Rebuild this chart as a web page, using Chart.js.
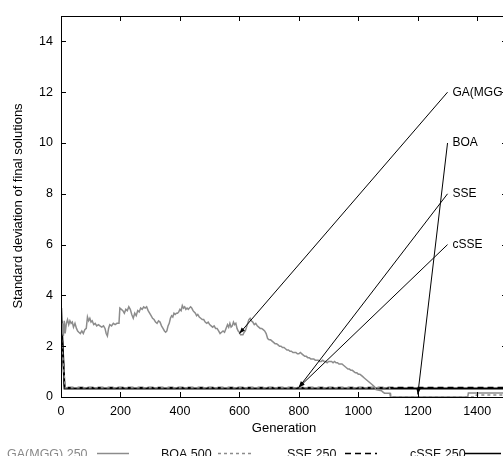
<!DOCTYPE html>
<html>
<head>
<meta charset="utf-8">
<script src="https://cdn.jsdelivr.net/npm/chart.js@4/dist/chart.umd.min.js"></script>
<style>
html,body{margin:0;padding:0;background:#fff;overflow:hidden;}
#wrap{width:540px;height:456px;overflow:hidden;}
</style>
</head>
<body>
<div id="wrap"><canvas id="c" width="540" height="456"></canvas></div>
<script>
// ---- data ----
const X_TICKS = [0,200,400,600,800,1000,1200,1400];
const Y_TICKS = [0,2,4,6,8,10,12,14];

const GA_GEN = [0,2,5,8,11,14,18,22,26,30,34,38,42,47,52,56,60,65,70,75,80,85,89,93,97,101,105,110,115,120,126,131,137,143,148,152,156,160,164,170,176,182,188,195,198,203,208,213,218,223,228,233,238,243,248,253,258,263,268,273,278,283,288,293,298,303,308,313,318,323,328,333,338,343,348,352,356,360,364,368,372,376,380,384,388,392,396,400,404,408,412,416,420,424,428,432,436,440,444,448,452,456,460,465,470,475,480,485,490,495,500,505,510,515,520,525,530,535,540,545,550,555,560,564,568,572,576,580,584,588,592,596,600,604,608,612,616,620,624,628,632,636,640,645,650,655,660,665,670,675,680,685,690,695,700,705,710,715,720,725,730,735,740,745,750,755,760,765,770,775,780,785,790,795,800,805,810,815,820,825,830,835,840,845,850,855,860,865,870,875,880,885,890,895,900,905,910,915,920,925,930,935,940,945,950,955,960,965,970,975,980,985,990,995,1000,1005,1010,1015,1020,1025,1030,1035,1040,1045,1050,1055,1058,1062,1070,1078,1082,1088,1106,1108,1368,1370,1500];
const GA_STD = [3.5,2.45,2.9,2.4,3.0,2.5,2.9,3.05,2.85,3.0,2.9,2.95,2.75,2.9,2.7,2.6,2.55,2.5,2.6,2.5,2.65,2.7,3.15,3.0,3.1,2.95,3.0,2.85,2.9,2.8,2.85,2.8,2.75,2.8,2.7,2.5,2.4,2.7,2.85,2.8,2.9,2.85,2.9,2.9,3.5,3.45,3.4,3.3,3.45,3.4,3.55,3.45,3.25,3.1,3.3,3.2,3.4,3.35,3.5,3.45,3.55,3.5,3.55,3.4,3.3,3.2,3.1,3.05,2.95,2.9,3.0,2.95,2.8,2.7,2.6,2.55,2.6,2.8,2.9,3.1,3.2,3.15,3.3,3.25,3.3,3.3,3.35,3.45,3.4,3.6,3.5,3.55,3.45,3.5,3.45,3.5,3.55,3.5,3.4,3.35,3.3,3.2,3.25,3.15,3.1,3.05,3.05,2.95,2.9,2.95,2.85,2.8,2.75,2.8,2.7,2.7,2.6,2.5,2.55,2.6,2.55,2.7,2.85,2.75,2.9,2.75,2.8,2.95,2.85,2.9,2.7,2.6,2.55,2.45,2.45,2.45,2.55,2.6,2.75,2.9,3.05,3.1,3.0,2.95,2.85,2.9,2.8,2.75,2.7,2.7,2.65,2.6,2.5,2.3,2.25,2.25,2.2,2.15,2.1,2.1,2.05,2.0,2.0,1.95,1.95,1.9,1.85,1.85,1.8,1.8,1.75,1.75,1.75,1.7,1.7,1.75,1.7,1.65,1.6,1.6,1.55,1.55,1.5,1.5,1.5,1.45,1.45,1.45,1.4,1.4,1.45,1.4,1.4,1.35,1.4,1.4,1.4,1.35,1.4,1.35,1.35,1.3,1.3,1.3,1.25,1.2,1.15,1.1,1.1,1.05,1.05,1.0,0.95,0.95,0.9,0.9,0.85,0.8,0.75,0.7,0.65,0.6,0.55,0.5,0.45,0.4,0.3,0.28,0.27,0.25,0.2,0.15,0.15,0,0,0.16,0.16];

const BOA_GEN = [0,14,1105,1110,1395,1397,1500];
const BOA_STD = [2.5,0.36,0.36,0,0,0.08,0.08];

const SSE_GEN = [0,12,1500];
const SSE_STD = [3.4,0.37,0.37];

const CSSE_GEN = [0,12,1500];
const CSSE_STD = [3.5,0.33,0.33];

const LEGEND_LABELS = ['GA(MGG) 250','BOA 500','SSE 250','cSSE 250'];

const ANN_LABELS = ['GA(MGG','BOA','SSE','cSSE'];
const ANN_FROM_X = [1300,1300,1300,1300];
const ANN_FROM_Y = [12,10,8,6];
const ANN_TO_X = [600,1200,800,800];
const ANN_TO_Y = [2.5,0.1,0.38,0.38];

const toXY = (g, v) => g.map((x, i) => ({x: x, y: v[i]}));

const FAMILY = '"Liberation Sans", Arial, sans-serif';
const FONT = '12px ' + FAMILY;
const TITLE_FONT = '13px ' + FAMILY;

const styles = [
  {color:'#8c8c8c', width:1.5, dash:[]},
  {color:'#8c8c8c', width:1.5, dash:[3,3]},
  {color:'#000000', width:1.5, dash:[6,4]},
  {color:'#000000', width:2, dash:[]}
];

const decor = {
  id: 'decor',
  afterDatasetsDraw(chart) {
    const ctx = chart.ctx, a = chart.chartArea;
    const xs = chart.scales.x, ys = chart.scales.y;
    ctx.save();
    // frame
    ctx.strokeStyle = '#000'; ctx.lineWidth = 1; ctx.setLineDash([]);
    ctx.strokeRect(Math.round(a.left)+0.5, Math.round(a.top)+0.5, Math.round(a.right-a.left), Math.round(a.bottom-a.top));
    // inward ticks
    ctx.beginPath();
    X_TICKS.forEach(t => {
      const px = Math.round(xs.getPixelForValue(t)) + 0.5;
      ctx.moveTo(px, a.bottom); ctx.lineTo(px, a.bottom - 5);
      ctx.moveTo(px, a.top); ctx.lineTo(px, a.top + 5);
    });
    Y_TICKS.forEach(t => {
      const py = Math.round(ys.getPixelForValue(t)) + 0.5;
      ctx.moveTo(a.left, py); ctx.lineTo(a.left + 5, py);
      ctx.moveTo(a.right, py); ctx.lineTo(a.right - 5, py);
    });
    ctx.stroke();
    // annotations
    ctx.font = FONT; ctx.fillStyle = '#000'; ctx.textBaseline = 'middle'; ctx.textAlign = 'left';
    ANN_LABELS.forEach((lab, i) => {
      const x1 = xs.getPixelForValue(ANN_FROM_X[i]), y1 = ys.getPixelForValue(ANN_FROM_Y[i]);
      const x2 = xs.getPixelForValue(ANN_TO_X[i]), y2 = ys.getPixelForValue(ANN_TO_Y[i]);
      ctx.strokeStyle = '#000'; ctx.lineWidth = 1;
      ctx.beginPath(); ctx.moveTo(x1, y1); ctx.lineTo(x2, y2); ctx.stroke();
      const ang = Math.atan2(y2 - y1, x2 - x1);
      const L = 6, W = 2.2;
      ctx.beginPath();
      ctx.moveTo(x2, y2);
      ctx.lineTo(x2 - L*Math.cos(ang) + W*Math.sin(ang), y2 - L*Math.sin(ang) - W*Math.cos(ang));
      ctx.lineTo(x2 - L*Math.cos(ang) - W*Math.sin(ang), y2 - L*Math.sin(ang) + W*Math.cos(ang));
      ctx.closePath(); ctx.fill();
      ctx.fillText(lab, x1 + 5, y1);
    });
    // axis titles
    ctx.font = TITLE_FONT;
    ctx.textAlign = 'center';
    ctx.fillText('Generation', 284, 428);
    ctx.save();
    ctx.translate(18, 206); ctx.rotate(-Math.PI/2);
    ctx.fillText('Standard deviation of final solutions', 0, 0);
    ctx.restore();
    // legend
    ctx.font = '12.5px ' + FAMILY;
    const legX = [[7,97,129],[161,218,252],[287,345,377],[410,465,501]];
    ctx.textAlign = 'left'; ctx.textBaseline = 'alphabetic';
    LEGEND_LABELS.forEach((lab, i) => {
      const [tx, l1, l2] = legX[i];
      ctx.fillStyle = i === 0 ? '#888' : '#111';
      ctx.fillText(lab, tx, 458);
      ctx.strokeStyle = styles[i].color; ctx.lineWidth = 1.5; ctx.setLineDash(styles[i].dash);
      ctx.beginPath(); ctx.moveTo(l1, 453.5); ctx.lineTo(l2, 453.5); ctx.stroke();
    });
    ctx.restore();
  }
};

const series = [[GA_GEN,GA_STD],[BOA_GEN,BOA_STD],[SSE_GEN,SSE_STD],[CSSE_GEN,CSSE_STD]];

new Chart(document.getElementById('c'), {
  type: 'line',
  data: {
    datasets: series.map((s, i) => ({
      label: LEGEND_LABELS[i],
      data: toXY(s[0], s[1]),
      borderColor: styles[i].color,
      borderWidth: styles[i].width,
      borderDash: styles[i].dash,
      pointRadius: 0,
      tension: 0,
      fill: false
    }))
  },
  options: {
    responsive: false,
    animation: false,
    devicePixelRatio: 1,
    layout: {padding: {left: 0, right: 33, top: 16, bottom: 0}},
    plugins: {legend: {display: false}, tooltip: {enabled: false}},
    scales: {
      x: {
        type: 'linear', min: 0, max: 1500,
        afterBuildTicks: s => { s.ticks = X_TICKS.map(v => ({value: v})); },
        afterFit: s => { s.height = 59; },
        grid: {display: false, drawTicks: false},
        border: {display: false},
        ticks: {color: '#000', font: {family: FAMILY, size: 12.5}, padding: 7, maxRotation: 0, autoSkip: false, callback: v => String(v)}
      },
      y: {
        type: 'linear', min: 0, max: 15,
        afterBuildTicks: s => { s.ticks = Y_TICKS.map(v => ({value: v})); },
        afterFit: s => { s.width = 61; },
        grid: {display: false, drawTicks: false},
        border: {display: false},
        ticks: {color: '#000', font: {family: FAMILY, size: 12.5}, padding: 8, callback: v => String(v)}
      }
    }
  },
  plugins: [decor]
});
</script>
</body>
</html>
